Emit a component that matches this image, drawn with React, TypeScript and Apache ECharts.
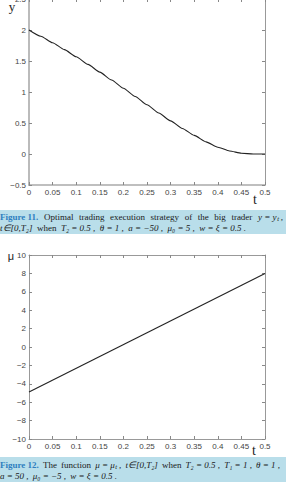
import React, { useEffect, useRef } from "react";
import * as echarts from "echarts";

// Figure 11 data: y = y_t
const tValues = [0, 0.025, 0.05, 0.075, 0.1, 0.125, 0.15, 0.175, 0.2, 0.225, 0.25, 0.275, 0.3, 0.325, 0.35, 0.375, 0.4, 0.425, 0.45, 0.475, 0.5];
const yValues = [2.0, 1.9, 1.795, 1.684, 1.568, 1.446, 1.321, 1.193, 1.061, 0.928, 0.794, 0.661, 0.534, 0.412, 0.3, 0.196, 0.11, 0.048, 0.012, 0.001, 0.0];

// Figure 12 data: mu = mu_t
const muT = [0, 0.5];
const muValues = [-4.9, 8];

const xTicks = { min: 0, max: 0.5, interval: 0.05 };
const y1Ticks = { min: -0.5, max: 2.5, interval: 0.5 };
const y2Ticks = { min: -10, max: 10, interval: 2 };

const SERIF = "Liberation Serif";
const SANS = "Liberation Sans";
const CAP_BG = "#b9deea";
const FIG_BLUE = "#2f7fc0";
const CAP_SIZE = 9;

type Word = { t: string; it?: boolean; blue?: boolean };

const cap1L1: Word[] = [
  { t: "Figure 11.", blue: true }, { t: "Optimal" }, { t: "trading" }, { t: "execution" },
  { t: "strategy" }, { t: "of" }, { t: "the" }, { t: "big" }, { t: "trader" },
  { t: "y = yₜ ,", it: true },
];
const cap1L2: Word[] = [
  { t: "t∈[0,T₂]", it: true }, { t: "when" }, { t: "T₂ = 0.5 ,", it: true },
  { t: "θ = 1 ,", it: true }, { t: "a = −50 ,", it: true }, { t: "μ₀ = 5 ,", it: true },
  { t: "w = ξ = 0.5 .", it: true },
];
const cap2L1: Word[] = [
  { t: "Figure 12.", blue: true }, { t: "The" }, { t: "function" }, { t: "μ = μₜ ,", it: true },
  { t: "t∈[0,T₂]", it: true }, { t: "when" }, { t: "T₂ = 0.5 ,", it: true },
  { t: "T₁ = 1 ,", it: true }, { t: "θ = 1 ,", it: true },
];
const cap2L2: Word[] = [
  { t: "a = 50 ,", it: true }, { t: "μ₀ = −5 ,", it: true }, { t: "w = ξ = 0.5 .", it: true },
];

let ctx: CanvasRenderingContext2D | null = null;
function fontOf(w: Word) {
  return `${w.it ? "italic " : ""}${w.blue ? "bold " : ""}${CAP_SIZE}px "${SERIF}"`;
}
function measure(w: Word) {
  if (!ctx) ctx = document.createElement("canvas").getContext("2d");
  if (!ctx) return w.t.length * 4.5;
  ctx.font = fontOf(w);
  return ctx.measureText(w.t).width;
}

// justify a line of words between x=0 and xEnd (gap never below 3px)
function words(list: Word[], y: number, xEnd: number) {
  const widths = list.map(measure);
  const total = widths.reduce((a, b) => a + b, 0);
  const gap = list.length > 1 ? Math.max(3, (xEnd - total) / (list.length - 1)) : 0;
  let x = 0;
  return list.map((w, i) => {
    const el = {
      type: "text",
      x,
      y,
      silent: true,
      style: {
        text: w.t,
        fill: w.blue ? FIG_BLUE : "#1a1a1a",
        fontFamily: SERIF,
        fontSize: CAP_SIZE,
        fontStyle: w.it ? "italic" : "normal",
        fontWeight: w.blue ? "bold" : "normal",
        textAlign: "left",
        textVerticalAlign: "middle",
      },
    };
    x += widths[i] + gap;
    return el;
  });
}

const fmt = (v: number) => String(+v.toFixed(2)).replace("-", "−");

function axisSet(gridIndex: number, yt: { min: number; max: number; interval: number }, thickLeft: boolean) {
  const tick = { show: true, inside: true, length: 3, lineStyle: { color: "#888", width: 1 } };
  const label = { show: true, color: "#444", fontSize: 8, fontFamily: SANS, margin: 3, formatter: fmt };
  const xAxes = [
    {
      type: "value", gridIndex, position: "bottom", ...xTicks,
      axisLine: { show: true, onZero: false, lineStyle: { color: thickLeft ? "#aaa" : "#999", width: thickLeft ? 1.5 : 1 } },
      axisTick: tick, axisLabel: label, splitLine: { show: false },
    },
    {
      type: "value", gridIndex, position: "top", ...xTicks,
      axisLine: { show: true, onZero: false, lineStyle: { color: "#999", width: 1 } },
      axisTick: tick, axisLabel: { show: false }, splitLine: { show: false },
    },
  ];
  const yAxes = [
    {
      type: "value", gridIndex, position: "left", ...yt,
      axisLine: { show: true, onZero: false, lineStyle: { color: thickLeft ? "#bbb" : "#999", width: thickLeft ? 2 : 1 } },
      axisTick: tick, axisLabel: label, splitLine: { show: false },
    },
    {
      type: "value", gridIndex, position: "right", ...yt,
      axisLine: { show: true, onZero: false, lineStyle: { color: "#999", width: 1 } },
      axisTick: tick, axisLabel: { show: false }, splitLine: { show: false },
    },
  ];
  return { xAxes, yAxes };
}

export default function App() {
  const ref = useRef<HTMLDivElement>(null);
  useEffect(() => {
    if (!ref.current) return;
    const chart = echarts.init(ref.current, null, { renderer: "svg" });
    const a1 = axisSet(0, y1Ticks, true);
    const a2 = axisSet(1, y2Ticks, false);
    const txt = (text: string, x: number, y: number, family: string, size: number) => ({
      type: "text", x, y, silent: true,
      style: { text, fontFamily: family, fontSize: size, fill: "#222", textAlign: "center", textVerticalAlign: "middle" },
    });
    const option: any = {
      animation: false,
      backgroundColor: "#fff",
      grid: [
        { left: 29, width: 236, top: -1, height: 186, containLabel: false, outerBoundsMode: "none" },
        { left: 29, width: 236, top: 255, height: 184, containLabel: false, outerBoundsMode: "none" },
      ],
      xAxis: [...a1.xAxes, ...a2.xAxes],
      yAxis: [...a1.yAxes, ...a2.yAxes],
      series: [
        {
          type: "line", xAxisIndex: 0, yAxisIndex: 0,
          data: tValues.map((t, i) => [t, yValues[i]]),
          showSymbol: false, smooth: 0.2, smoothMonotone: "x",
          lineStyle: { color: "#222", width: 1.1 },
        },
        {
          type: "line", xAxisIndex: 2, yAxisIndex: 2,
          data: muT.map((t, i) => [t, muValues[i]]),
          showSymbol: false,
          lineStyle: { color: "#222", width: 1.1 },
        },
      ],
      graphic: [
        txt("y", 12, 6, SERIF, 13),
        txt("t", 255, 199, SERIF, 14),
        txt("μ", 11, 256, SANS, 11),
        txt("t", 254, 450, SERIF, 14),
        { type: "rect", silent: true, shape: { x: 0, y: 210, width: 286, height: 24 }, style: { fill: CAP_BG } },
        { type: "rect", silent: true, shape: { x: 0, y: 457, width: 286, height: 25 }, style: { fill: CAP_BG } },
        ...words(cap1L1, 217, 283),
        ...words(cap1L2, 227.5, 246),
        ...words(cap2L1, 465, 280),
        ...words(cap2L2, 475.5, 117),
      ],
    };
    chart.setOption(option);
    return () => chart.dispose();
  }, []);
  return (
    <div
      ref={ref}
      style={{ position: "fixed", left: 0, top: 0, width: 286, height: 490 }}
    />
  );
}
